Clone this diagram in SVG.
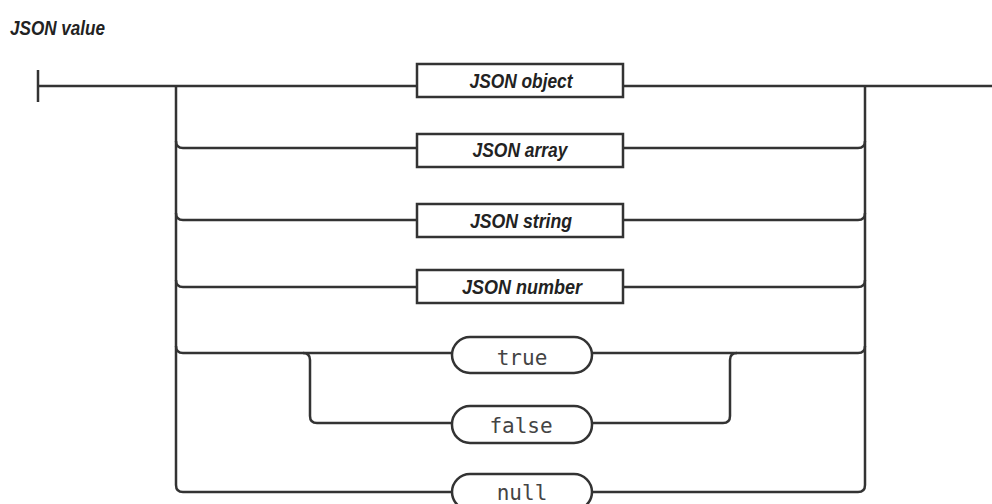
<svg xmlns="http://www.w3.org/2000/svg" width="992" height="504" viewBox="0 0 992 504">
<style>
.ln{fill:none;stroke:#333;stroke-width:2.5;stroke-linecap:butt}
.bx{fill:#fff;stroke:#333;stroke-width:2.5}
.bt{font-family:"Liberation Sans",Arial,sans-serif;font-weight:bold;font-style:italic;font-size:21px;fill:#222;text-anchor:middle}
.pt{font-family:"DejaVu Sans Mono","Liberation Mono",monospace;font-size:21px;fill:#444;text-anchor:middle}
</style>
<rect width="992" height="504" fill="#fff"/>
<text x="10" y="35" font-family="Liberation Sans,Arial,sans-serif" font-weight="bold" font-style="italic" font-size="20" fill="#222" textLength="95" lengthAdjust="spacingAndGlyphs">JSON value</text>
<g id="connectors">
<line class="ln" x1="38" y1="70" x2="38" y2="102" stroke-width="3"/>
<path class="ln" d="M38 86 H417 M623 86 H992"/>
<path class="ln" d="M176 86 V485 Q176 492 183 492 H452"/>
<path class="ln" d="M865 86 V485 Q865 492 858 492 H592"/>
<path class="ln" d="M176 141 Q176 148 183 148 H417 M623 148 H858 Q865 148 865 141"/>
<path class="ln" d="M176 213 Q176 220 183 220 H417 M623 220 H858 Q865 220 865 213"/>
<path class="ln" d="M176 280 Q176 287 183 287 H417 M623 287 H858 Q865 287 865 280"/>
<path class="ln" d="M176 346 Q176 353 183 353 H452 M592 353 H858 Q865 353 865 346"/>
<path class="ln" d="M303 353 Q310 353 310 360 V416 Q310 423 317 423 H452"/>
<path class="ln" d="M592 423 H723 Q730 423 730 416 V360 Q730 353 737 353"/>
</g>
<g id="node-object"><rect class="bx" x="417" y="64" width="206" height="33"/><text class="bt" x="521" y="88" textLength="103" lengthAdjust="spacingAndGlyphs">JSON object</text></g>
<g id="node-array"><rect class="bx" x="417" y="134" width="206" height="33"/><text class="bt" x="520" y="157" textLength="95" lengthAdjust="spacingAndGlyphs">JSON array</text></g>
<g id="node-string"><rect class="bx" x="417" y="204" width="206" height="33"/><text class="bt" x="521" y="228" textLength="102" lengthAdjust="spacingAndGlyphs">JSON string</text></g>
<g id="node-number"><rect class="bx" x="417" y="270" width="206" height="33"/><text class="bt" x="522" y="294" textLength="120" lengthAdjust="spacingAndGlyphs">JSON number</text></g>
<g id="node-true"><rect class="bx" x="452" y="337" width="140" height="36" rx="18"/><text class="pt" x="522" y="365">true</text></g>
<g id="node-false"><rect class="bx" x="452" y="406" width="140" height="37" rx="18"/><text class="pt" x="521" y="433">false</text></g>
<g id="node-null"><rect class="bx" x="452" y="474" width="140" height="36" rx="18"/><text class="pt" x="522" y="500">null</text></g>
</svg>
